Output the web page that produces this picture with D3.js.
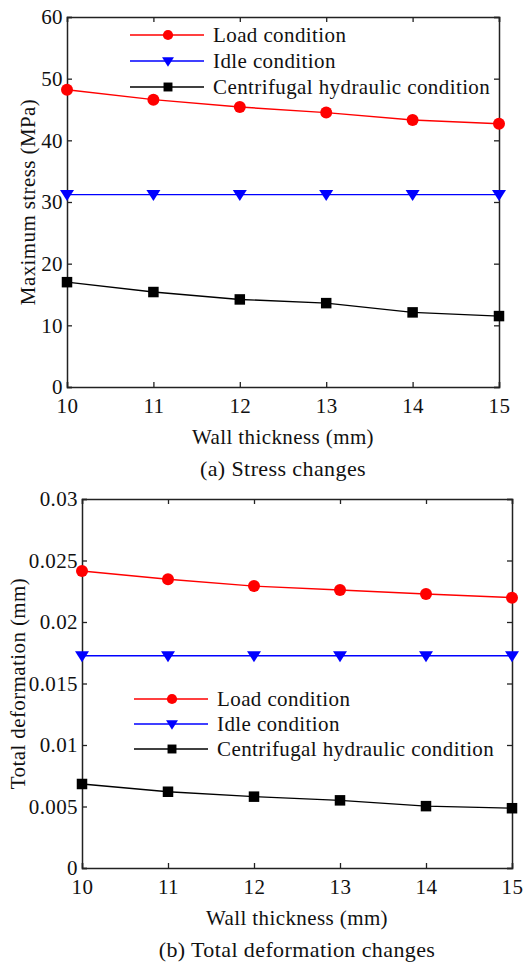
<!DOCTYPE html>
<html lang="en">
<head>
<meta charset="UTF-8">
<title>Wall thickness charts</title>
<script src="https://cdn.jsdelivr.net/npm/d3@7"></script>
<style>
    body { margin: 0; background: #fff; }
    svg text { font-family: "Times New Roman", "Liberation Serif", "DejaVu Serif", serif; fill: #111; letter-spacing: 0.4px; }
</style>
</head>
<body>
<div id="chart"></div>
<script>
    const thickness = [10, 11, 12, 13, 14, 15];
    const seriesNames = ["Load condition", "Idle condition", "Centrifugal hydraulic condition"];
    const seriesColors = ["#ff0000", "#0000ff", "#000000"];
    const seriesMarkers = ["circle", "triangle", "square"];

    const stressLoad = [48.2, 46.6, 45.4, 44.5, 43.3, 42.7];
    const stressIdle = [31.2, 31.2, 31.2, 31.2, 31.2, 31.2];
    const stressCentrifugal = [17.0, 15.4, 14.2, 13.6, 12.1, 11.5];
    const stressTicks = [0, 10, 20, 30, 40, 50, 60];

    const deformLoad = [0.02415, 0.02348, 0.02292, 0.0226, 0.02228, 0.02198];
    const deformIdle = [0.01726, 0.01726, 0.01726, 0.01726, 0.01726, 0.01726];
    const deformCentrifugal = [0.00683, 0.0062, 0.0058, 0.0055, 0.00503, 0.00486];
    const deformTicks = [0, 0.005, 0.01, 0.015, 0.02, 0.025, 0.03];

    const fs = 21;

    const svg = d3.select("#chart").append("svg")
        .attr("width", 530).attr("height", 964);

    function drawPanel(cfg) {
        const x = d3.scaleLinear().domain([10, 15]).range([cfg.left, cfg.right]);
        const y = d3.scaleLinear().domain([0, cfg.yMax]).range([cfg.bottom, cfg.top]);
        const g = svg.append("g");

        // frame with inward ticks on all sides
        g.append("g").attr("transform", `translate(0,${cfg.bottom})`)
            .call(d3.axisBottom(x).tickValues(thickness).tickSize(-5).tickPadding(11).tickFormat(d3.format("d")));
        g.append("g").attr("transform", `translate(0,${cfg.top})`)
            .call(d3.axisTop(x).tickValues(thickness).tickSize(-5).tickFormat(""));
        g.append("g").attr("transform", `translate(${cfg.left},0)`)
            .call(d3.axisLeft(y).tickValues(cfg.ticks).tickSize(-5).tickPadding(4).tickFormat(cfg.fmt));
        g.append("g").attr("transform", `translate(${cfg.right},0)`)
            .call(d3.axisRight(y).tickValues(cfg.ticks).tickSize(-5).tickFormat(""));
        g.selectAll(".domain").attr("stroke", "#222").attr("stroke-width", 1.5);
        g.selectAll(".tick line").attr("stroke", "#222").attr("stroke-width", 1.3);
        g.selectAll("g").attr("font-family", null);
        g.selectAll(".tick text").attr("font-size", fs).attr("fill", "#111");

        const line = d3.line().x((d, i) => x(thickness[i])).y(d => y(d));
        cfg.series.forEach((vals, s) => {
            g.append("path").datum(vals)
                .attr("d", line).attr("fill", "none")
                .attr("stroke", seriesColors[s]).attr("stroke-width", 1.4);
            vals.forEach((v, i) => drawMarker(g, seriesMarkers[s], x(thickness[i]), y(v), seriesColors[s]));
        });

        // legend
        seriesNames.forEach((name, s) => {
            const ly = cfg.legY + s * cfg.legStep;
            g.append("line").attr("x1", cfg.legX).attr("x2", cfg.legX + 74)
                .attr("y1", ly).attr("y2", ly)
                .attr("stroke", seriesColors[s]).attr("stroke-width", 1.4);
            drawMarker(g, seriesMarkers[s], cfg.legX + 38, ly, seriesColors[s], 0.85);
            g.append("text").attr("x", cfg.legX + 83).attr("y", ly + 7)
                .attr("font-size", fs).text(name);
        });

        g.append("text").attr("x", (cfg.left + cfg.right) / 2).attr("y", cfg.bottom + 57)
            .attr("text-anchor", "middle").attr("font-size", fs).text("Wall thickness (mm)");
        g.append("text").attr("x", (cfg.left + cfg.right) / 2).attr("y", cfg.bottom + 89)
            .attr("text-anchor", "middle").attr("font-size", fs + 1).text(cfg.caption);
        g.append("text")
            .attr("transform", `translate(${cfg.yLabelX},${(cfg.top + cfg.bottom) / 2}) rotate(-90)`)
            .attr("text-anchor", "middle").attr("font-size", fs).text(cfg.yLabel);
    }

    function drawMarker(g, type, cx, cy, color, k = 1) {
        if (type === "circle") {
            g.append("circle").attr("cx", cx).attr("cy", cy).attr("r", 6 * k).attr("fill", color);
        } else if (type === "triangle") {
            const w = 7 * k, h = 11 * k;
            g.append("path")
                .attr("d", `M${cx - w},${cy - h / 2 + 1}L${cx + w},${cy - h / 2 + 1}L${cx},${cy + h / 2 + 1}Z`)
                .attr("fill", color);
        } else {
            const s = 10.5 * k;
            g.append("rect").attr("x", cx - s / 2).attr("y", cy - s / 2)
                .attr("width", s).attr("height", s).attr("fill", color);
        }
    }

    drawPanel({
        left: 67, right: 499, top: 17, bottom: 387,
        yMax: 60, ticks: stressTicks, fmt: d3.format("d"),
        series: [stressLoad, stressIdle, stressCentrifugal],
        legX: 130, legY: 35, legStep: 26,
        caption: "(a) Stress changes", yLabel: "Maximum stress (MPa)", yLabelX: 35
    });

    drawPanel({
        left: 82, right: 512, top: 499, bottom: 868,
        yMax: 0.03, ticks: deformTicks, fmt: d => d === 0 ? "0" : String(+d.toFixed(3)),
        series: [deformLoad, deformIdle, deformCentrifugal],
        legX: 134, legY: 699, legStep: 25,
        caption: "(b) Total deformation changes", yLabel: "Total deformation (mm)", yLabelX: 25
    });
</script>
</body>
</html>
